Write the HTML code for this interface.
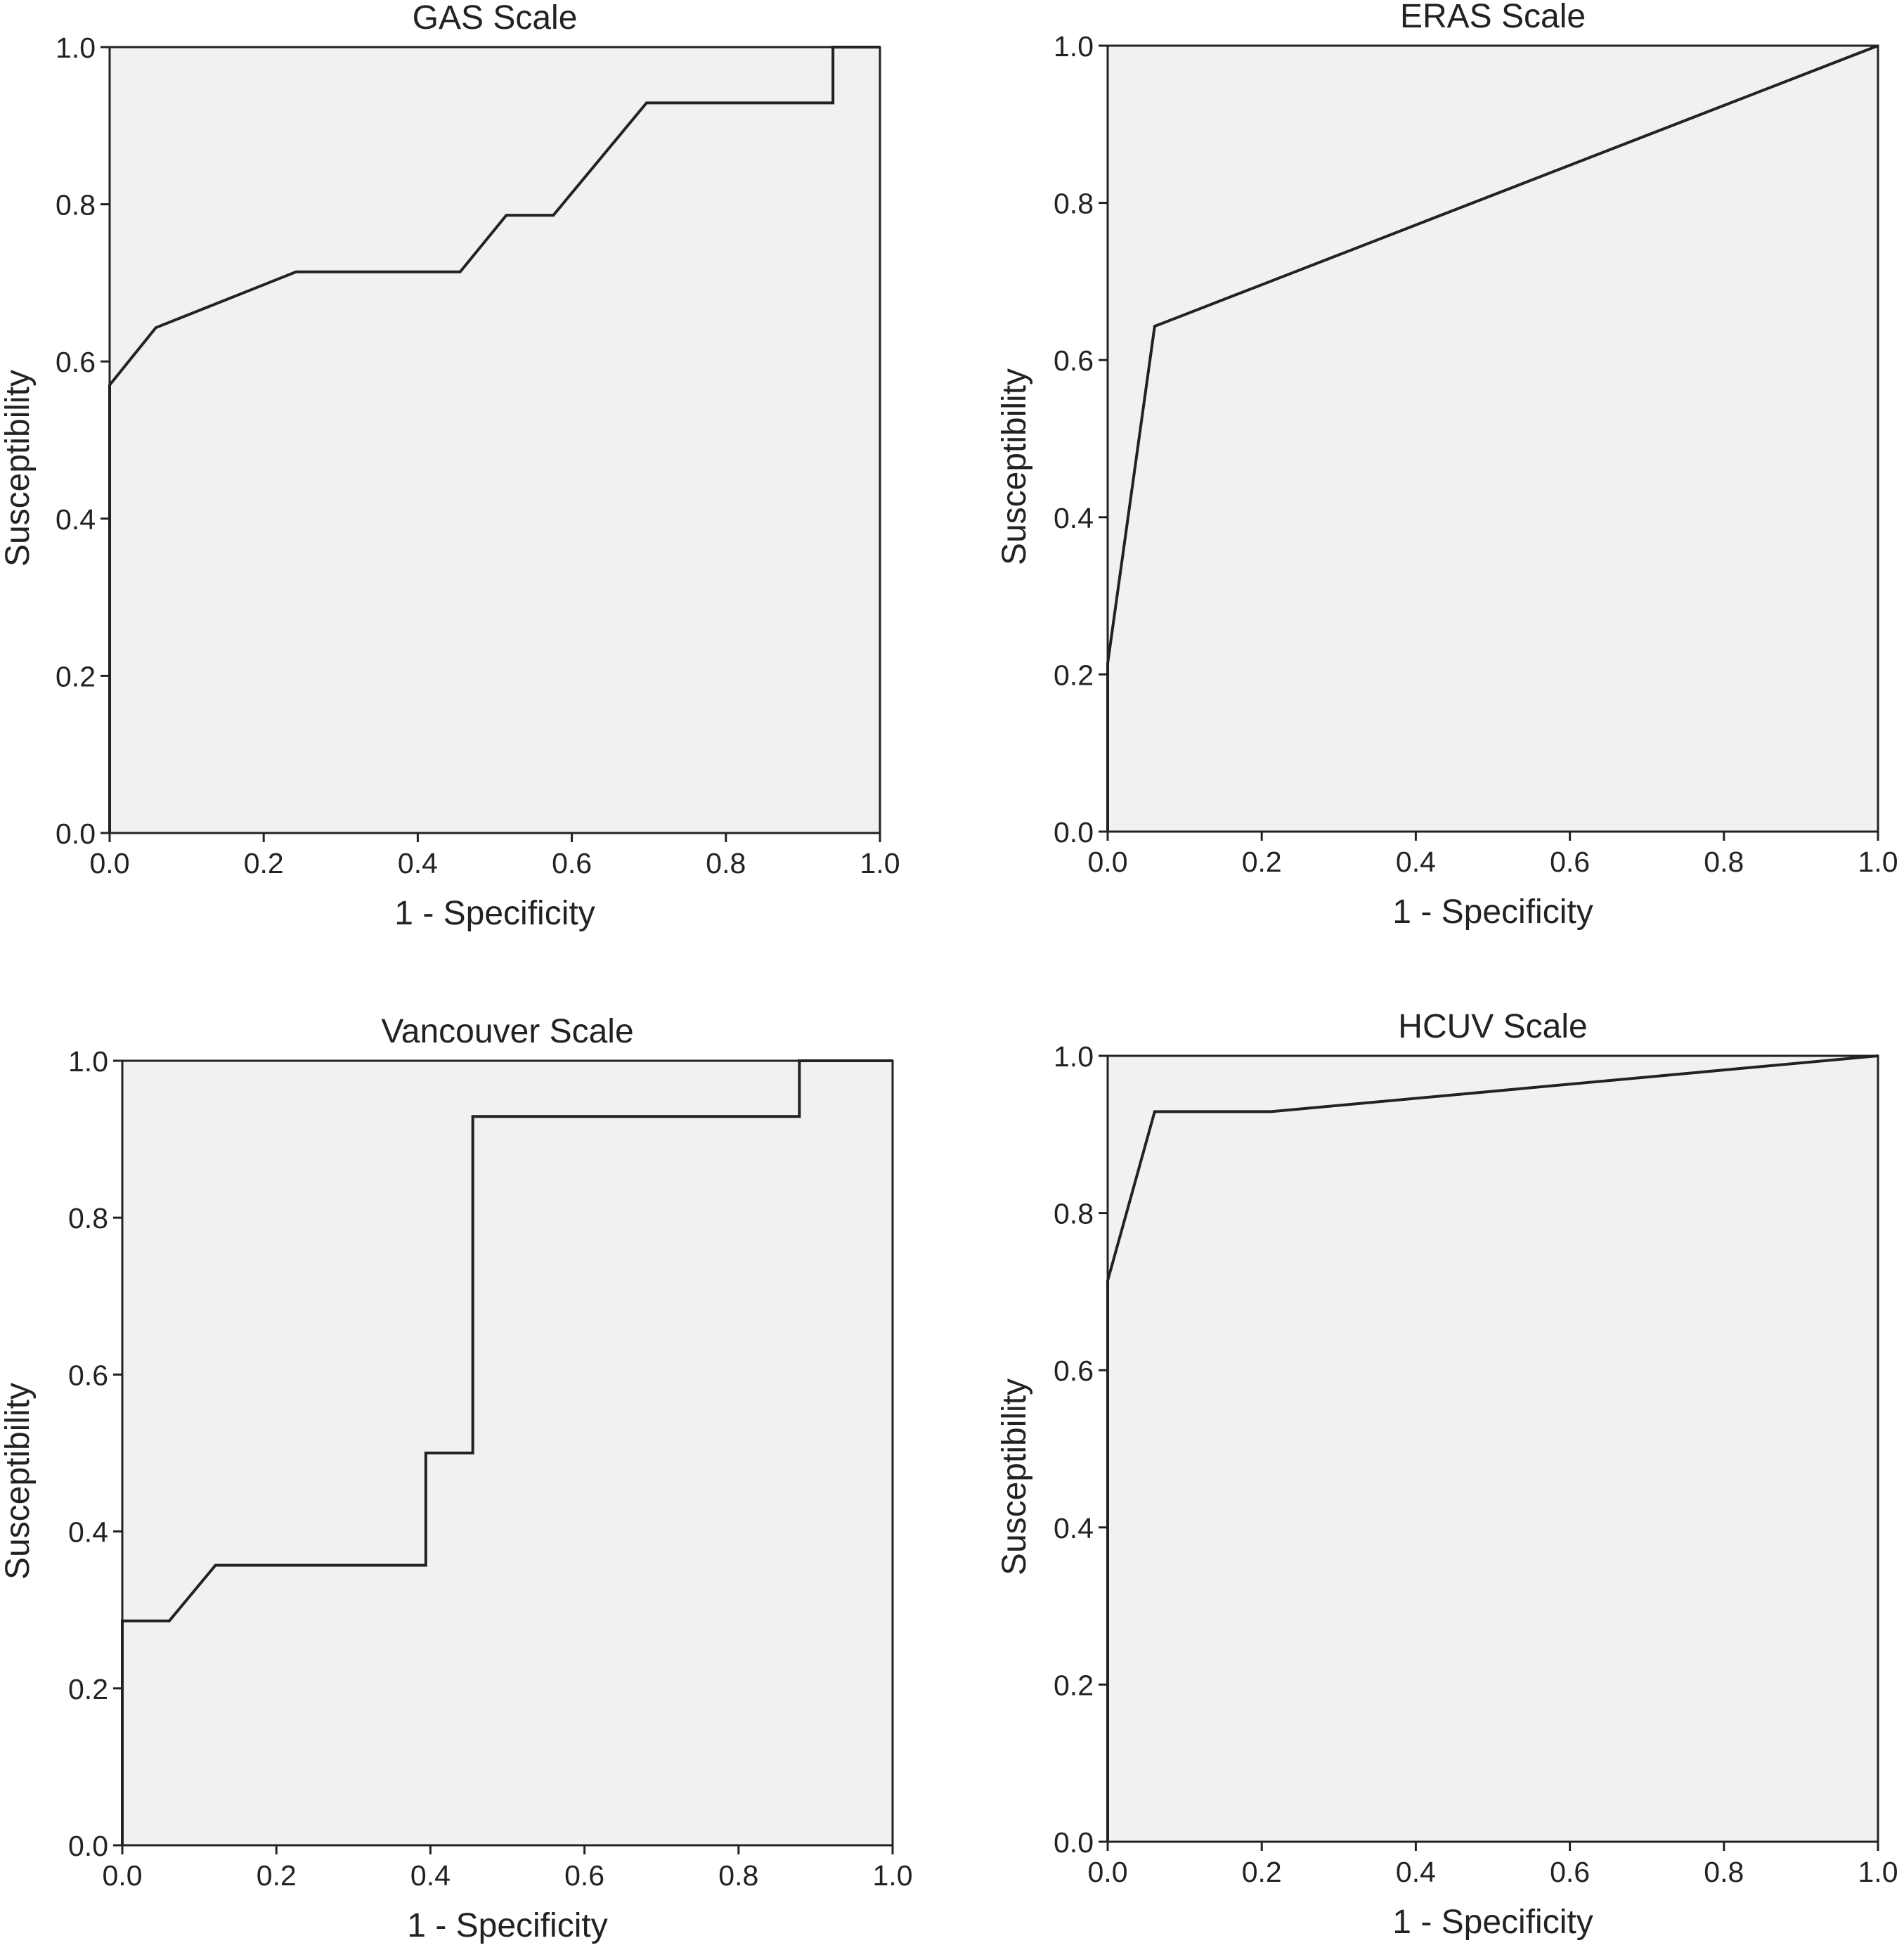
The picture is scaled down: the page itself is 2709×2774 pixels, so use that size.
<!DOCTYPE html>
<html><head><meta charset="utf-8">
<style>
html,body{margin:0;padding:0;background:#fff;}
svg{display:block;}
text{font-family:"Liberation Sans",Arial,sans-serif;fill:#222;}
</style></head>
<body>
<svg id="fig" width="2709" height="2774" viewBox="0 0 2709 2774" xmlns="http://www.w3.org/2000/svg"></svg>
<script>
const ticks = [0, 0.2, 0.4, 0.6, 0.8, 1.0];
const tickLabels = ["0.0","0.2","0.4","0.6","0.8","1.0"];
const titles = ["GAS Scale","ERAS Scale","Vancouver Scale","HCUV Scale"];
const gasX = [0,0,0.06,0.242,0.455,0.515,0.576,0.697,0.939,0.939,1];
const gasY = [0,0.57,0.643,0.714,0.714,0.786,0.786,0.929,0.929,1,1];
const erasX = [0,0,0.061,1];
const erasY = [0,0.214,0.643,1];
const vanX = [0,0,0.061,0.121,0.394,0.394,0.455,0.455,0.879,0.879,1];
const vanY = [0,0.286,0.286,0.357,0.357,0.5,0.5,0.929,0.929,1,1];
const hcuvX = [0,0,0.061,0.212,1];
const hcuvY = [0,0.714,0.929,0.929,1];

const panels = [
  {L:156,R:1252,T:67,B:1185,xs:gasX,ys:gasY,name:"gas",yo:131},
  {L:1576,R:2672,T:65,B:1183,xs:erasX,ys:erasY,name:"eras",yo:133},
  {L:174,R:1270,T:1509,B:2625,xs:vanX,ys:vanY,name:"vancouver",yo:149},
  {L:1576,R:2672,T:1502,B:2620,xs:hcuvX,ys:hcuvY,name:"hcuv",yo:133}
];
const NS="http://www.w3.org/2000/svg";
const svg=document.getElementById('fig');
function mk(tag,attrs,parent){const e=document.createElementNS(NS,tag);for(const k in attrs)e.setAttribute(k,attrs[k]);(parent||svg).appendChild(e);return e;}
panels.forEach((p,i)=>{
  const g=mk('g',{});
  
  
  const sx=v=>p.L+v*(p.R-p.L);
  const sy=v=>p.B-v*(p.B-p.T);
  const bg=mk('rect',{x:p.L,y:p.T,width:p.R-p.L,height:p.B-p.T,fill:'#f0f1f3',stroke:'#222','stroke-width':3},g);
  
  
  const t=mk('text',{x:(p.L+p.R)/2,y:p.T-26,'font-size':48,'text-anchor':'middle'},g);
  t.textContent=titles[i];
  
  
  ticks.forEach((v,j)=>{
    mk('line',{x1:p.L-13,x2:p.L,y1:sy(v),y2:sy(v),stroke:'#222','stroke-width':3},g);
    const yl=mk('text',{x:p.L-20,y:sy(v)+15,'font-size':41,'text-anchor':'end'},g);
    yl.textContent=tickLabels[j];
    
    
    mk('line',{x1:sx(v),x2:sx(v),y1:p.B,y2:p.B+13,stroke:'#222','stroke-width':3},g);
    const xl=mk('text',{x:sx(v),y:p.B+57,'font-size':41,'text-anchor':'middle'},g);
    xl.textContent=tickLabels[j];
    
    
  });
  const xt=mk('text',{x:(p.L+p.R)/2,y:p.B+130,'font-size':48,'text-anchor':'middle'},g);
  xt.textContent='1 - Specificity';
  
  
  const cy=(p.T+p.B)/2+40;
  const yx=p.L-p.yo+16;
  const yt=mk('text',{x:yx,y:cy,'font-size':48,'text-anchor':'middle',transform:`rotate(-90 ${yx} ${cy})`},g);
  yt.textContent='Susceptibility';
  
  
  const pts=p.xs.map((x,k)=>sx(x)+','+sy(p.ys[k])).join(' ');
  const line=mk('polyline',{points:pts,fill:'none',stroke:'#222','stroke-width':4,'stroke-linejoin':'miter'},g);
  
  
});
</script>
</body></html>
